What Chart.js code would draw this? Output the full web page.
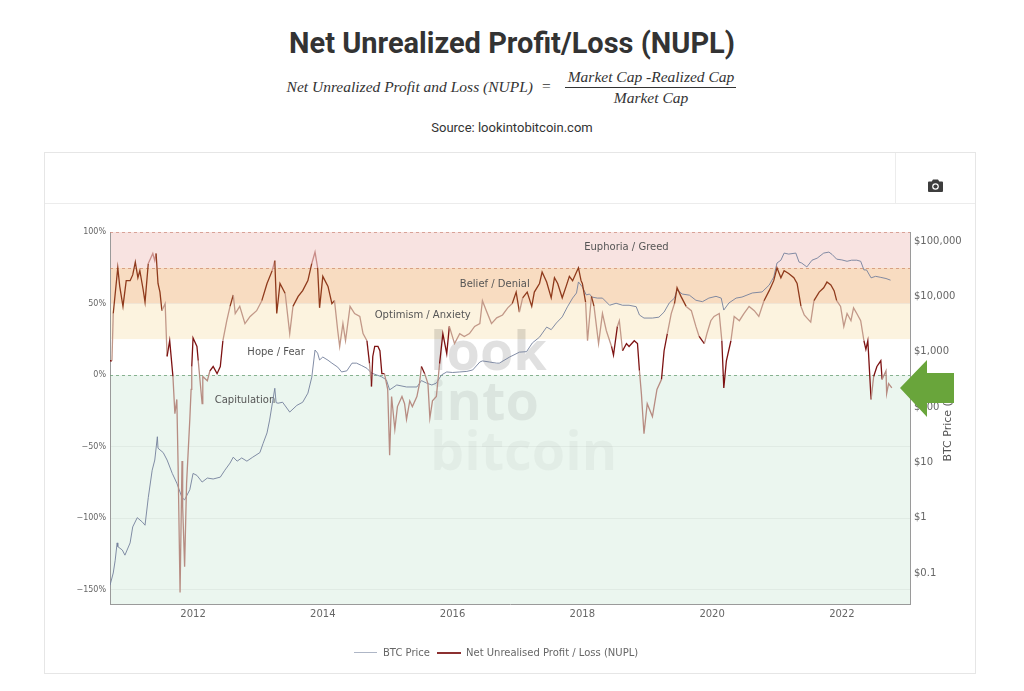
<!DOCTYPE html>
<html><head><meta charset="utf-8">
<script src="https://cdn.jsdelivr.net/npm/chart.js@4.4.0/dist/chart.umd.min.js"></script>
<style>
html,body{margin:0;padding:0;background:#fff;}
body{width:1024px;height:691px;position:relative;overflow:hidden;font-family:Roboto,sans-serif;}
.abs{position:absolute;}
#title{left:0;top:27px;width:1024px;text-align:center;font-weight:bold;font-size:29px;line-height:32px;color:#333;font-family:Roboto,sans-serif;}
.fx{font-family:'Liberation Serif',serif;font-style:italic;font-size:15.5px;line-height:16px;color:#333;white-space:nowrap;}
#source{left:0;top:120px;width:1024px;text-align:center;font-size:13px;line-height:16px;color:#333;}
#box{left:44px;top:152px;width:932px;height:522px;border:1px solid #e6e6e6;box-sizing:border-box;}
.lg{font-family:'DejaVu Sans',sans-serif;font-size:10px;line-height:12px;color:#666;white-space:nowrap;}
</style></head><body>
<div id="title" class="abs">Net Unrealized Profit/Loss (NUPL)</div>
<div class="abs fx" style="right:491px;top:79px;">Net Unrealized Profit and Loss (NUPL)</div>
<div class="abs fx" style="left:542px;top:78px;font-style:normal;">=</div>
<div class="abs fx" style="left:563px;width:176px;top:69px;text-align:center;">Market Cap -Realized Cap</div>
<div class="abs" style="left:565px;width:171px;top:87px;height:1px;background:#333;"></div>
<div class="abs fx" style="left:563px;width:176px;top:90px;text-align:center;">Market Cap</div>
<div id="source" class="abs">Source: lookintobitcoin.com</div>
<div id="box" class="abs"></div>
<div class="abs" style="left:45px;top:203px;width:930px;height:1px;background:#ececec;"></div>
<div class="abs" style="left:895px;top:153px;width:1px;height:50px;background:#ececec;"></div>
<svg class="abs" style="left:928px;top:179px" width="15" height="13" viewBox="0 0 15 13"><path fill="#3d3d3d" d="M5 0.5h5l1.3 2H14a1 1 0 0 1 1 1v8.5a1 1 0 0 1-1 1H1a1 1 0 0 1-1-1V3.5a1 1 0 0 1 1-1h2.7z"/><circle cx="7.5" cy="7.5" r="3.3" fill="#fff"/><circle cx="7.5" cy="7.5" r="2.1" fill="#3d3d3d"/></svg>
<div class="abs" style="left:44px;top:203px;width:932px;height:471px;">
<canvas id="c" width="932" height="471"></canvas>
</div>
<div class="abs" style="left:354px;top:652px;width:23px;height:1px;background:#aeb6c6;"></div>
<div class="abs lg" style="left:383px;top:647px;">BTC Price</div>
<div class="abs" style="left:437px;top:652px;width:24px;height:2px;background:#8c3030;"></div>
<div class="abs lg" style="left:466px;top:647px;">Net Unrealised Profit / Loss (NUPL)</div>
<svg class="abs" style="left:895px;top:355px" width="65" height="68" viewBox="895 355 65 68"><polygon fill="#69a53b" points="900,388 927,360 927,373 954,373 954,403 927,403 927,417"/></svg>
<script>
// ---------- data ----------
const xTickYears = [2012, 2014, 2016, 2018, 2020, 2022];
const nuplTickValues = [-150, -100, -50, 0, 50, 100];
const btcTickValues = [0.1, 1, 10, 100, 1000, 10000, 100000];

const nuplDates = [
 2010.72,2010.75,2010.77,2010.84,2010.87,2010.92,2010.97,2011.03,2011.07,2011.11,
 2011.15,2011.18,2011.23,2011.26,2011.31,2011.35,2011.38,2011.41,2011.43,2011.46,
 2011.49,2011.52,2011.57,2011.60,2011.64,2011.69,2011.72,2011.75,2011.77,2011.80,
 2011.83,2011.84,2011.87,2011.90,2011.95,2011.97,2011.98,2012.00,2012.06,2012.08,
 2012.14,2012.15,2012.22,2012.26,2012.31,2012.37,2012.42,2012.46,2012.52,2012.57,
 2012.62,2012.65,2012.72,2012.80,2012.88,2012.98,2013.06,2013.14,2013.22,2013.26,
 2013.29,2013.34,2013.42,2013.49,2013.54,2013.62,2013.69,2013.77,2013.83,2013.88,
 2013.92,2013.95,2014.00,2014.08,2014.14,2014.18,2014.23,2014.26,2014.31,2014.35,
 2014.42,2014.49,2014.57,2014.62,2014.68,2014.72,2014.75,2014.77,2014.80,2014.85,
 2014.88,2014.91,2014.95,2015.00,2015.03,2015.06,2015.11,2015.15,2015.22,2015.26,
 2015.29,2015.34,2015.38,2015.45,2015.49,2015.52,2015.57,2015.62,2015.65,2015.69,
 2015.75,2015.80,2015.85,2015.91,2015.95,2016.03,2016.11,2016.18,2016.26,2016.34,
 2016.42,2016.46,2016.52,2016.60,2016.68,2016.77,2016.85,2016.92,2016.98,2017.03,
 2017.08,2017.15,2017.22,2017.26,2017.34,2017.38,2017.45,2017.52,2017.57,2017.62,
 2017.69,2017.75,2017.80,2017.85,2017.91,2017.94,2017.98,2018.00,2018.05,2018.08,
 2018.14,2018.18,2018.25,2018.31,2018.37,2018.45,2018.48,2018.54,2018.57,2018.62,
 2018.68,2018.72,2018.80,2018.85,2018.88,2018.91,2018.95,2019.00,2019.08,2019.15,
 2019.22,2019.26,2019.31,2019.37,2019.42,2019.46,2019.52,2019.60,2019.68,2019.75,
 2019.80,2019.88,2019.92,2019.98,2020.03,2020.11,2020.15,2020.18,2020.22,2020.29,
 2020.34,2020.42,2020.49,2020.57,2020.65,2020.72,2020.80,2020.88,2020.95,2021.00,
 2021.06,2021.11,2021.18,2021.26,2021.31,2021.37,2021.42,2021.46,2021.52,2021.57,
 2021.65,2021.72,2021.77,2021.83,2021.88,2021.92,2021.98,2022.03,2022.08,2022.14,
 2022.18,2022.23,2022.29,2022.34,2022.37,2022.40,2022.45,2022.49,2022.54,2022.60,
 2022.62,2022.68,2022.69,2022.72,2022.77
];
const nuplValues = [
 10,10,43,75,62,48,66,66,70,79,
 68,73,60,51,78,82,85,80,85,64,
 58,45,50,13,24,-1,-27,-17,-64,-152,
 -60,-92,-134,-76,-31,-10,6,26,20,10,
 -20,-1,-4,3,6,1,6,24,38,48,
 56,43,48,36,41,45,52,64,73,80,
 43,64,57,29,48,55,59,66,78,86,
 75,47,69,62,50,52,31,20,36,24,
 48,43,41,29,24,8,-8,13,20,20,
 17,1,1,-10,-56,-15,-38,-22,-15,-20,
 -31,-18,-22,-15,-6,6,1,-6,-30,-18,
 -15,8,29,15,34,22,29,27,29,34,
 36,52,45,36,40,42,47,50,58,44,
 54,58,48,58,64,72,65,54,68,64,
 54,62,69,66,72,75,66,64,51,24,
 55,48,22,43,31,20,14,34,38,17,
 22,20,24,22,3,-13,-41,-20,-29,-10,
 -3,17,29,43,50,61,55,48,45,34,
 27,22,29,38,41,43,24,-9,10,24,
 41,38,43,48,45,41,52,59,66,75,
 68,73,71,68,64,48,42,40,37,52,
 58,61,65,63,59,52,48,34,43,38,
 47,43,38,24,18,24,-17,-1,6,10,
 -3,3,-13,-6,-9
];

const btcDates = [
 2010.72,2010.77,2010.80,2010.83,2010.84,2010.91,2010.95,2011.03,2011.07,2011.14,
 2011.22,2011.26,2011.31,2011.37,2011.41,2011.45,2011.46,2011.54,2011.60,2011.68,
 2011.75,2011.83,2011.87,2011.95,2012.00,2012.06,2012.14,2012.22,2012.31,2012.42,
 2012.49,2012.57,2012.62,2012.68,2012.75,2012.83,2012.92,2013.03,2013.08,2013.14,
 2013.18,2013.23,2013.26,2013.28,2013.31,2013.38,2013.49,2013.60,2013.69,2013.77,
 2013.83,2013.88,2013.92,2013.95,2014.00,2014.08,2014.14,2014.23,2014.29,2014.37,
 2014.45,2014.52,2014.60,2014.68,2014.75,2014.83,2014.91,2014.98,2015.03,2015.14,
 2015.29,2015.45,2015.52,2015.60,2015.68,2015.75,2015.83,2015.91,2016.00,2016.11,
 2016.22,2016.31,2016.42,2016.46,2016.57,2016.68,2016.72,2016.88,2017.03,2017.14,
 2017.23,2017.34,2017.45,2017.52,2017.60,2017.69,2017.77,2017.85,2017.91,2017.94,
 2018.00,2018.06,2018.11,2018.15,2018.23,2018.31,2018.42,2018.52,2018.62,2018.72,
 2018.83,2018.88,2018.95,2019.08,2019.18,2019.26,2019.34,2019.42,2019.46,2019.54,
 2019.65,2019.75,2019.85,2019.95,2020.06,2020.14,2020.18,2020.26,2020.37,2020.46,
 2020.62,2020.77,2020.88,2020.95,2021.00,2021.06,2021.11,2021.18,2021.29,2021.34,
 2021.38,2021.46,2021.54,2021.62,2021.72,2021.80,2021.85,2021.92,2022.00,2022.08,
 2022.15,2022.23,2022.29,2022.34,2022.38,2022.45,2022.52,2022.60,2022.68,2022.75
];
const btcPrices = [
 0.06,0.10,0.17,0.35,0.30,0.26,0.21,0.35,0.68,1.0,
 0.83,0.73,2.3,7.2,11,29,18,15,11,6.3,
 4.2,2.3,2.1,3.2,6.3,5.8,4.4,5.2,5.0,5.4,
 7.2,9.7,12.4,10.5,12,10.5,12.4,15,22,34,
 58,133,218,120,117,122,81,107,122,178,
 346,1070,940,707,800,700,620,525,430,450,
 620,620,560,500,410,380,350,308,204,250,
 230,230,300,270,250,270,380,430,420,430,
 440,467,650,680,650,620,620,800,980,1000,
 1440,1830,2780,2500,3300,4250,6450,9300,11500,18200,
 14800,10600,11000,9700,9300,9300,6900,7500,6900,6900,
 6500,4600,4050,4050,4200,5200,7600,9300,13000,11000,
 10500,8500,8000,9300,10000,9300,5650,7600,9300,9700,
 11500,12000,16000,22300,40000,45000,60500,58000,60500,41600,
 40000,34000,45000,49000,60500,63000,57000,47000,45500,43000,
 45000,45000,43000,30000,30000,21600,23000,22000,21000,19600
];

// sentiment zones (NUPL %, top edge .. bottom edge)
const zoneEdges = [100, 75, 50, 25, 0, -160];
const zoneNames = ['Euphoria / Greed', 'Belief / Denial', 'Optimism / Anxiety', 'Hope / Fear', 'Capitulation'];
const zoneFill = ['#f8e3e1', '#f8dcc1', '#fcf3df', '#ffffff', '#ebf6ef'];
const zoneLine = ['#c98c88', '#8f3a1c', '#c29888', '#7d1212', '#b78c82'];
// label anchor (year, NUPL %)
const zoneLabelYear = [2018.68, 2016.65, 2015.54, 2013.28, 2012.80];
const zoneLabelValue = [89.5, 63.6, 42.0, 16.1, -17.5];
const dashedLevels = [100, 75, 0];
const dashedColors = ['rgba(205,140,125,0.75)', 'rgba(205,140,110,0.75)', 'rgba(110,160,120,0.8)'];

function zoneIndex(v) {
  for (let i = 0; i < zoneNames.length; i++) if (v > zoneEdges[i + 1]) return i;
  return zoneNames.length - 1;
}
function thousands(v) { return String(v).replace(/\B(?=(\d{3})+(?!\d))/g, ','); }

const zonesPlugin = {
  id: 'zones',
  beforeDraw(chart) {
    const { ctx, chartArea: a, scales } = chart;
    const y = scales.y;
    ctx.save();
    for (let i = 0; i < zoneFill.length; i++) {
      const t = y.getPixelForValue(zoneEdges[i]), b = y.getPixelForValue(zoneEdges[i + 1]);
      ctx.fillStyle = zoneFill[i];
      ctx.fillRect(a.left, t, a.right - a.left, b - t);
    }
    // watermark
    ctx.font = 'bold 54px "Open Sans"';
    ctx.textAlign = 'left';
    ctx.textBaseline = 'alphabetic';
    const wx = a.left + (a.right - a.left) * 0.4;
    ctx.fillStyle = 'rgba(0,0,0,0.12)'; ctx.fillText('look', wx, a.top + 138);
    ctx.fillStyle = 'rgba(0,0,0,0.065)'; ctx.fillText('into', wx, a.top + 188);
    ctx.fillStyle = 'rgba(0,0,0,0.035)'; ctx.fillText('bitcoin', wx, a.top + 238);
    ctx.restore();
  },
  beforeDatasetsDraw(chart) {
    const { ctx, chartArea: a, scales } = chart;
    const y = scales.y, x = scales.x;
    ctx.save();
    ctx.lineWidth = 1;
    ctx.setLineDash([3, 3]);
    dashedLevels.forEach((lv, i) => {
      const py = Math.round(y.getPixelForValue(lv)) + 0.5;
      ctx.strokeStyle = dashedColors[i];
      ctx.beginPath(); ctx.moveTo(a.left, py); ctx.lineTo(a.right, py); ctx.stroke();
    });
    ctx.setLineDash([]);
    ctx.font = '10px "DejaVu Sans"';
    ctx.fillStyle = '#555';
    ctx.textAlign = 'center';
    ctx.textBaseline = 'middle';
    zoneNames.forEach((n, i) => {
      ctx.fillText(n, x.getPixelForValue(zoneLabelYear[i]), y.getPixelForValue(zoneLabelValue[i]));
    });
    ctx.restore();
  },
  afterDraw(chart) {
    const { ctx, chartArea: a } = chart;
    ctx.save();
    ctx.translate(a.right + 38, (a.top + a.bottom) / 2);
    ctx.rotate(-Math.PI / 2);
    ctx.font = '11px "DejaVu Sans"';
    ctx.fillStyle = '#555';
    ctx.textAlign = 'center';
    ctx.textBaseline = 'middle';
    ctx.fillText('BTC Price (USD)', 0, 0);
    ctx.restore();
  }
};

new Chart(document.getElementById('c'), {
  type: 'line',
  data: {
    datasets: [
      {
        label: 'Net Unrealised Profit / Loss (NUPL)',
        data: nuplDates.map((d, i) => ({ x: d, y: nuplValues[i] })),
        yAxisID: 'y',
        borderColor: '#8f3a1c',
        borderWidth: 1.3,
        pointRadius: 0,
        tension: 0,
        segment: { borderColor: c => zoneLine[zoneIndex((c.p0.parsed.y + c.p1.parsed.y) / 2)] }
      },
      {
        label: 'BTC Price',
        data: btcDates.map((d, i) => ({ x: d, y: btcPrices[i] })),
        yAxisID: 'y1',
        borderColor: '#74809c',
        borderWidth: 0.9,
        pointRadius: 0,
        tension: 0
      }
    ]
  },
  options: {
    responsive: false,
    animation: false,
    layout: { padding: { top: 29, right: 0, left: 0, bottom: 0 } },
    plugins: { legend: { display: false }, tooltip: { enabled: false } },
    scales: {
      x: {
        type: 'linear', min: 2010.72, max: 2023.05,
        afterBuildTicks: s => { s.ticks = xTickYears.map(v => ({ value: v })); },
        afterFit: s => { s.height = 70; },
        grid: { display: false, drawTicks: false },
        border: { display: true, color: '#9a9a9a' },
        ticks: { padding: 4, color: '#666', font: { family: 'DejaVu Sans', size: 10 }, callback: v => String(v), maxRotation: 0, autoSkip: false }
      },
      y: {
        position: 'left', min: -160, max: 100,
        afterBuildTicks: s => { s.ticks = nuplTickValues.map(v => ({ value: v })); },
        afterFit: s => { s.width = 66; },
        grid: { drawTicks: false, color: c => (c.tick && (c.tick.value === 0 || c.tick.value === 100)) ? 'rgba(0,0,0,0)' : 'rgba(0,0,0,0.045)' },
        border: { display: true, color: '#9a9a9a' },
        ticks: { padding: 4, color: '#666', font: { family: 'DejaVu Sans', size: 8 }, autoSkip: false, callback: v => (v < 0 ? '\u2212' + Math.abs(v) : v) + '%' }
      },
      y1: {
        type: 'logarithmic', position: 'right', min: 0.02752, max: 145450,
        afterBuildTicks: s => { s.ticks = btcTickValues.map(v => ({ value: v })); },
        afterFit: s => { s.width = 66; },
        grid: { display: false, drawTicks: false },
        border: { display: true, color: '#9a9a9a' },
        ticks: { padding: 4, color: '#666', font: { family: 'DejaVu Sans', size: 10 }, autoSkip: false, callback: v => '$' + (v >= 1 ? thousands(v) : String(v)) }
      }
    }
  },
  plugins: [zonesPlugin]
});
</script>
</body></html>
